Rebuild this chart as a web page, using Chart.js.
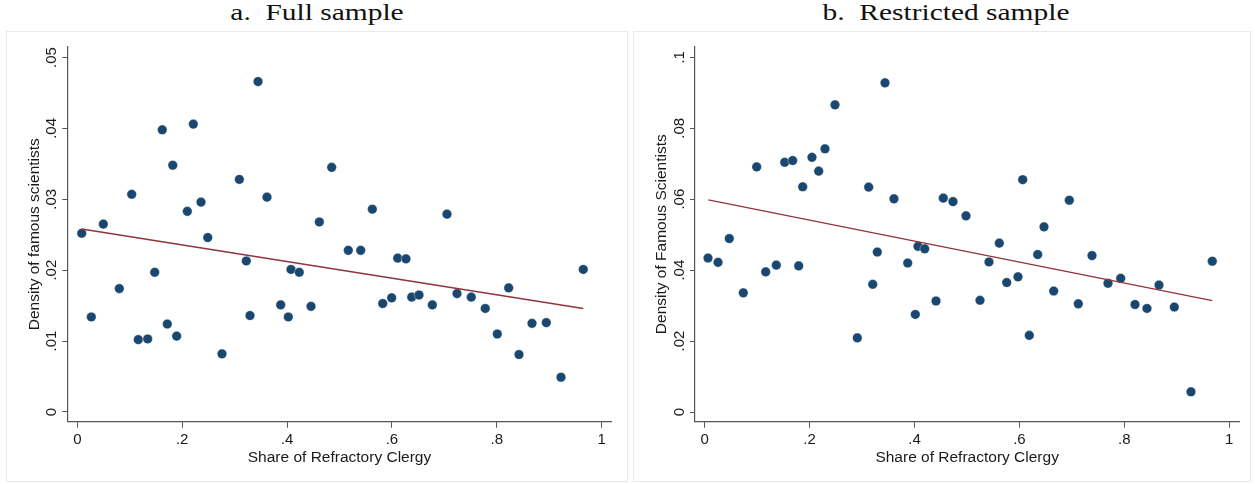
<!DOCTYPE html>
<html><head><meta charset="utf-8">
<script src="https://cdn.jsdelivr.net/npm/chart.js@4.4.0/dist/chart.umd.min.js"></script>
<style>
html,body{margin:0;padding:0;background:#fff;width:1255px;height:484px;overflow:hidden;position:relative;}
.title{position:absolute;top:1px;font-family:"Liberation Serif","Times New Roman",serif;font-size:23px;line-height:23px;color:#111;white-space:nowrap;transform:translateX(-50%) scaleX(1.28);}
.frame{position:absolute;top:31px;height:449px;border:1px solid #e4ebee;background:#fff;}
canvas{position:absolute;left:0;top:0;}
</style></head><body>
<div class="title" style="left:317px">a.&nbsp; Full sample</div>
<div class="title" style="left:946px">b.&nbsp; Restricted sample</div>
<div class="frame" style="left:6px;width:620px;"><canvas id="cA" width="620" height="449"></canvas></div>
<div class="frame" style="left:633px;width:616px;"><canvas id="cB" width="616" height="449"></canvas></div>
<script>
// ---- Data: panel a (full sample) ----
const fullShare = [0.0084,0.0267,0.0496,0.0801,0.1037,0.1163,0.1342,0.1476,0.162,0.1716,0.182,0.1895,0.2098,0.2212,0.2359,0.2487,0.2759,0.309,0.3223,0.3293,0.3446,0.3617,0.3879,0.4024,0.4075,0.4233,0.4457,0.4615,0.4851,0.5168,0.5404,0.5626,0.5824,0.5995,0.611,0.6268,0.6377,0.6516,0.677,0.705,0.7241,0.7513,0.778,0.8009,0.8226,0.8423,0.8671,0.8944,0.9224,0.9649];
const fullDensity = [0.0252,0.0134,0.0265,0.0174,0.0307,0.0102,0.0103,0.0197,0.0398,0.0124,0.0348,0.0107,0.0283,0.0406,0.0296,0.0246,0.0082,0.0328,0.0213,0.0136,0.0466,0.0303,0.0151,0.0134,0.0201,0.0197,0.0149,0.0268,0.0345,0.0228,0.0228,0.0286,0.0153,0.0161,0.0217,0.0216,0.0162,0.0165,0.0151,0.0279,0.0167,0.0162,0.0146,0.0110,0.0175,0.0081,0.0125,0.0126,0.0049,0.0201];
const fullFitX = [0.0084, 0.9649];
const fullFitY = [0.0258, 0.0146];

// ---- Data: panel b (restricted sample) ----
const restShare = [0.0063,0.0254,0.0469,0.0736,0.0991,0.1163,0.1365,0.1525,0.1677,0.1792,0.1868,0.2045,0.2173,0.2293,0.2484,0.2909,0.3126,0.3203,0.329,0.3437,0.3608,0.387,0.4015,0.4066,0.4194,0.4409,0.4548,0.4733,0.4981,0.5248,0.5419,0.5616,0.5757,0.5972,0.6062,0.6188,0.6348,0.6468,0.6653,0.695,0.7122,0.7383,0.7688,0.793,0.8203,0.8431,0.866,0.8952,0.927,0.9676];
const restDensity = [0.0434,0.0422,0.0489,0.0336,0.0691,0.0395,0.0414,0.0704,0.0709,0.0412,0.0635,0.0718,0.0679,0.0742,0.0866,0.0209,0.0634,0.0360,0.0451,0.0928,0.0601,0.0420,0.0275,0.0467,0.0460,0.0313,0.0603,0.0593,0.0553,0.0315,0.0423,0.0476,0.0365,0.0381,0.0655,0.0216,0.0444,0.0522,0.0341,0.0597,0.0305,0.0441,0.0363,0.0377,0.0303,0.0292,0.0358,0.0296,0.0057,0.0425];
const restFitX = [0.0069, 0.9676];
const restFitY = [0.0598, 0.0314];

// ---- Ticks ----
const xTicks = [0, 0.2, 0.4, 0.6, 0.8, 1];
const xTickLabels = ['0', '.2', '.4', '.6', '.8', '1'];
const fullYTicks = [0, 0.01, 0.02, 0.03, 0.04, 0.05];
const fullYTickLabels = ['0', '.01', '.02', '.03', '.04', '.05'];
const restYTicks = [0, 0.02, 0.04, 0.06, 0.08, 0.1];
const restYTickLabels = ['0', '.02', '.04', '.06', '.08', '.1'];

const AXIS = '#555555';
const TXT = '#1a1a1a';
const SANS = '"Liberation Sans", Arial, sans-serif';

const yTickLabelPlugin = {
  id: 'yTickLabels',
  afterDraw(chart, args, opts) {
    const y = chart.scales.y; const ctx = chart.ctx;
    ctx.save();
    ctx.fillStyle = TXT;
    ctx.font = '15px ' + SANS;
    ctx.textAlign = 'center';
    ctx.textBaseline = 'middle';
    opts.ticks.forEach((v, i) => {
      const py = y.getPixelForValue(v);
      ctx.save();
      ctx.translate(chart.chartArea.left - 15.5, py);
      ctx.rotate(-Math.PI / 2);
      ctx.fillText(opts.labels[i], 0, 0);
      ctx.restore();
    });
    ctx.restore();
  }
};

function makeChart(id, xs, ys, fx, fy, yTicks, yLabels, yTitle, ranges, area) {
  const canvas = document.getElementById(id);
  const W = canvas.width, H = canvas.height;
  const xH = H - area.bottom; // x scale height fills to canvas bottom
  const pts = xs.map((x, i) => ({x: x, y: ys[i]}));
  const fit = fx.map((x, i) => ({x: x, y: fy[i]}));
  return new Chart(canvas, {
    type: 'scatter',
    data: {
      datasets: [
        {type: 'line', data: fit, borderColor: '#90353b', borderWidth: 1.4, pointRadius: 0, fill: false, order: 0},
        {type: 'scatter', data: pts, backgroundColor: '#1a476f', borderColor: 'rgba(255,255,255,0.6)', borderWidth: 0.6, pointRadius: 4.8, order: 1}
      ]
    },
    options: {
      responsive: false, animation: false, events: [],
      layout: {padding: {left: 0, top: area.top, right: W - area.right, bottom: 0}},
      plugins: {legend: {display: false}, tooltip: {enabled: false}, yTickLabels: {ticks: yTicks, labels: yLabels}},
      scales: {
        x: {
          type: 'linear', position: 'bottom', min: ranges.xmin, max: ranges.xmax,
          afterBuildTicks: s => { s.ticks = xTicks.map(v => ({value: v})); },
          afterFit: s => { s.height = xH; },
          ticks: {callback: (v) => { const i = xTicks.indexOf(v); return i >= 0 ? xTickLabels[i] : ''; }, color: TXT, font: {family: SANS, size: 15}, padding: 3, maxRotation: 0, autoSkip: false},
          grid: {display: true, drawOnChartArea: false, drawTicks: true, tickLength: 6, tickColor: AXIS, tickWidth: 1},
          border: {display: true, color: AXIS, width: 1.2},
          title: {display: true, text: 'Share of Refractory Clergy', color: TXT, font: {family: SANS, size: 15.5}, padding: {top: 0, bottom: 14}}
        },
        y: {
          type: 'linear', position: 'left', min: ranges.ymin, max: ranges.ymax,
          afterBuildTicks: s => { s.ticks = yTicks.map(v => ({value: v})); },
          afterFit: s => { s.width = area.left; },
          ticks: {display: false},
          grid: {display: true, drawOnChartArea: false, drawTicks: true, tickLength: 5, tickColor: AXIS, tickWidth: 1},
          border: {display: true, color: AXIS, width: 1.2},
          title: {display: true, text: yTitle, color: TXT, font: {family: SANS, size: 15.5}, padding: {top: 18, bottom: 0}}
        }
      }
    },
    plugins: [yTickLabelPlugin]
  });
}

makeChart('cA', fullShare, fullDensity, fullFitX, fullFitY, fullYTicks, fullYTickLabels,
  'Density of famous scientists',
  {xmin: -0.0191, xmax: 1.0191, ymin: -0.00137, ymax: 0.05152},
  {left: 60.3, top: 14.7, right: 604.7, bottom: 389.7});
makeChart('cB', restShare, restDensity, restFitX, restFitY, restYTicks, restYTickLabels,
  'Density of Famous Scientists',
  {xmin: -0.0185, xmax: 1.0191, ymin: -0.00273, ymax: 0.10299},
  {left: 61, top: 14.7, right: 605.3, bottom: 389.7});
</script>
</body></html>
